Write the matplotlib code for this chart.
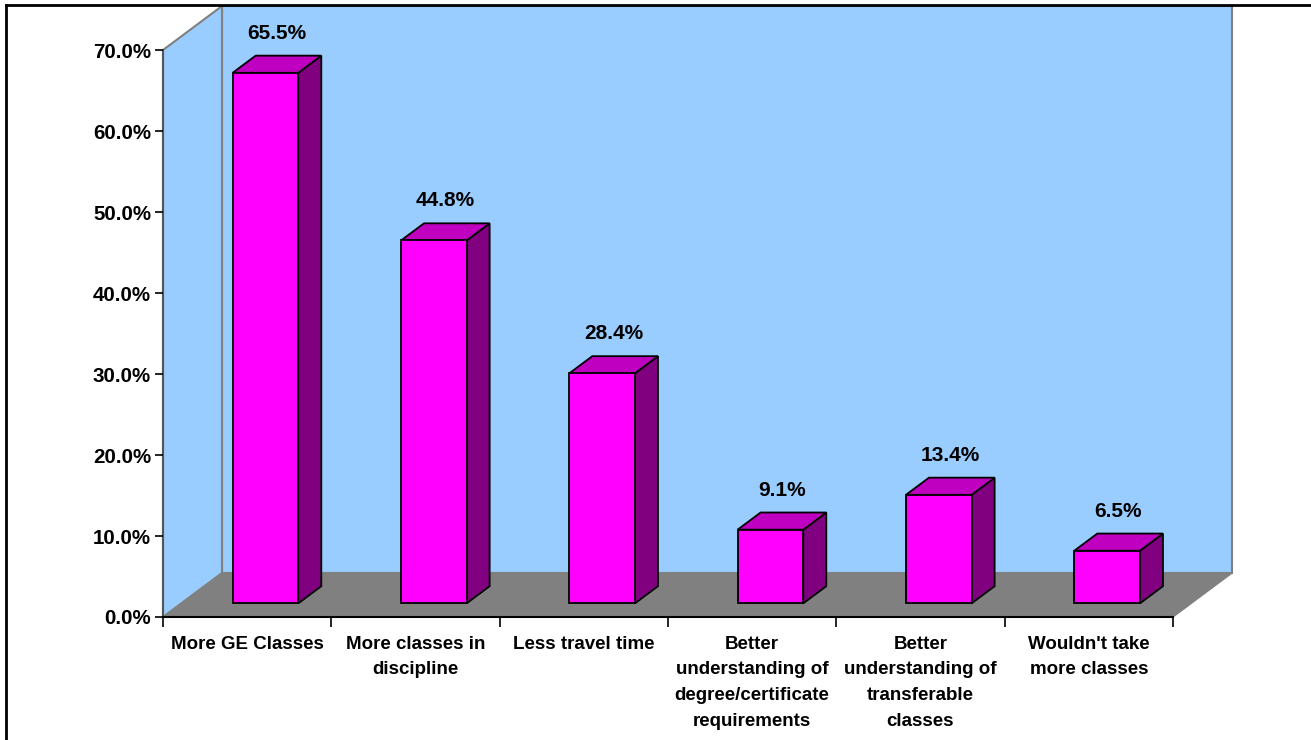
import matplotlib
matplotlib.use("Agg")
import matplotlib.pyplot as plt
import matplotlib.transforms as mtransforms
from matplotlib.patches import Polygon
from matplotlib.lines import Line2D

plt.rcParams['font.family'] = ['Liberation Sans', 'DejaVu Sans']
plt.rcParams['font.weight'] = 'bold'

categories = ["More GE Classes", "More classes in\ndiscipline", "Less travel time",
              "Better\nunderstanding of\ndegree/certificate\nrequirements",
              "Better\nunderstanding of\ntransferable\nclasses",
              "Wouldn't take\nmore classes"]
values = [65.5, 44.8, 28.4, 9.1, 13.4, 6.5]
yticks = [0, 10, 20, 30, 40, 50, 60, 70]

# 3d look: depth offset in data units
DX = 0.3505
DY = 5.43
YMAX = 70
n = len(categories)


def p(x, y, d):
    return (x + d * DX, y + d * DY)


fig = plt.figure(figsize=(13.11, 7.40), dpi=100)
ax = fig.add_axes([163 / 1311, 1 - 617 / 740, 1010 / 1311, 567 / 740])
ax.set_xlim(0, n)
ax.set_ylim(0, YMAX)
ax.patch.set_visible(False)

wall = '#99CCFF'
floor = '#808080'
edge = '#808080'

# back wall, side wall, floor
ax.add_patch(Polygon([p(0, 0, 1), p(n, 0, 1), p(n, YMAX, 1), p(0, YMAX, 1)],
                     closed=True, facecolor=wall, edgecolor=edge, lw=1.5, clip_on=False, zorder=0))
ax.add_patch(Polygon([p(0, 0, 0), p(0, YMAX, 0), p(0, YMAX, 1), p(0, 0, 1)],
                     closed=True, facecolor=wall, edgecolor=edge, lw=1.5, clip_on=False, zorder=0))
ax.add_patch(Polygon([p(0, 0, 0), p(n, 0, 0), p(n, 0, 1), p(0, 0, 1)],
                     closed=True, facecolor=floor, edgecolor=floor, lw=1, clip_on=False, zorder=0.5))

# bars
w = 0.39
d0, d1 = 0.31, 0.70
lab_tr = mtransforms.offset_copy(ax.transData, fig=fig, y=17, units='dots')
for i, v in enumerate(values):
    xl = i + 0.5 - w / 2
    xr = i + 0.5 + w / 2
    front = [p(xl, 0, d0), p(xr, 0, d0), p(xr, v, d0), p(xl, v, d0)]
    top = [p(xl, v, d0), p(xr, v, d0), p(xr, v, d1), p(xl, v, d1)]
    side = [p(xr, 0, d0), p(xr, 0, d1), p(xr, v, d1), p(xr, v, d0)]
    ax.add_patch(Polygon(side, closed=True, facecolor='#800080', edgecolor='black', lw=1.3, clip_on=False, zorder=2))
    ax.add_patch(Polygon(top, closed=True, facecolor='#C000C0', edgecolor='black', lw=1.3, clip_on=False, zorder=2))
    ax.add_patch(Polygon(front, closed=True, facecolor='#FF00FF', edgecolor='black', lw=1.3, clip_on=False, zorder=2))
    tx = i + 0.5 + 0.5 * DX
    ty = v + d1 * DY
    ax.text(tx, ty, "%.1f%%" % v, transform=lab_tr, ha='center', va='baseline',
            fontsize=15, fontweight='bold', zorder=3)

# axes lines and ticks
for s in ['top', 'right']:
    ax.spines[s].set_visible(False)
ax.spines['left'].set_color('#555555')
ax.spines['left'].set_linewidth(1.5)
ax.spines['bottom'].set_color('black')
ax.spines['bottom'].set_linewidth(1.5)
ax.spines['left'].set_zorder(1)
ax.spines['bottom'].set_zorder(1)

ax.set_yticks(yticks)
ax.set_yticklabels(["%.1f%%" % t for t in yticks])
ax.tick_params(axis='y', direction='out', length=5.8, width=1.2, pad=2.9, color='black',
               labelsize=14.8)

ax.set_xticks([i + 0.5 for i in range(n)])
ax.set_xticklabels(categories, fontsize=13.5, fontweight='bold', linespacing=1.67)
ax.set_xticks(range(n + 1), minor=True)
ax.tick_params(axis='x', which='major', length=0, pad=13.5)
ax.tick_params(axis='x', which='minor', direction='out', length=7.2, width=1.2, color='black')

# outer frame (top and left edges visible)
fig.add_artist(Line2D([6 / 1311, 6 / 1311], [0, 1 - 5 / 740], color='black', lw=2))
fig.add_artist(Line2D([6 / 1311, 1], [1 - 5 / 740, 1 - 5 / 740], color='black', lw=2))

fig.savefig("out.png", dpi=100)
